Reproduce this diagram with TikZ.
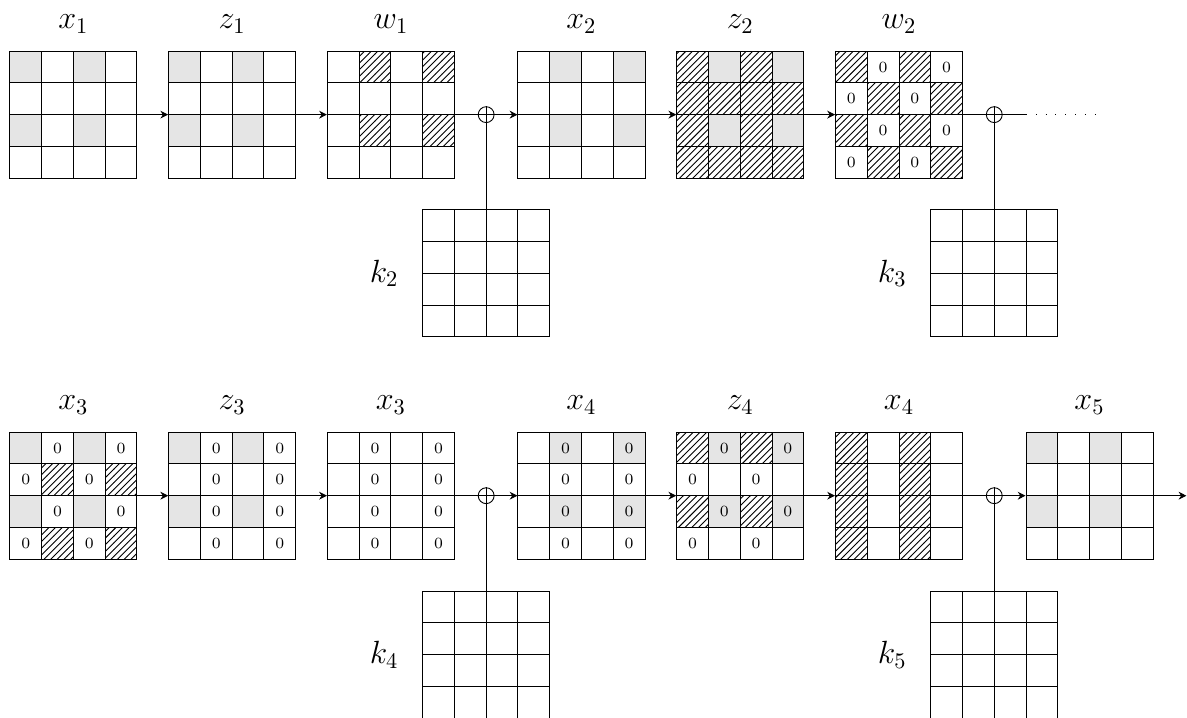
\documentclass[tikz,border=0pt]{standalone}
\usetikzlibrary{arrows.meta,patterns}
\tikzset{gridbox/.style={draw,minimum size=2cm,inner sep=0pt},lbl/.style={font=\Large,label distance=1.5mm},klbl/.style={font=\Large,label distance=2.5mm},shade/.style={fill=gray!20},hatch/.style={pattern=north east lines},zero/.style={font=\scriptsize,inner sep=0pt},oplus/.style={draw,circle,minimum size=2.5mm,inner sep=0pt},arrow/.style={-{Stealth[length=3.5pt,width=3.5pt]}}}
% cells are given as column/row, row 1 on top
\newcommand{\gfill}[2]{\foreach \i/\j in {#2} \fill[#1] (\i-1,4-\j) rectangle ++(1,1);}
\newcommand{\gzero}[1]{\foreach \i/\j in {#1} \node[zero] at (\i-0.5,4.5-\j) {0};}
% name, x, y, label, cells
\newcommand{\cellgrid}[5]{\begin{scope}[shift={(#2,#3)}]#5\foreach \t in {1,2,3} \draw (\t,0) -- (\t,4) (0,\t) -- (4,\t);\node[gridbox,label={#4}] (#1) at (2,2) {};\end{scope}}

\begin{document}
\begin{tikzpicture}[x=0.5cm,y=0.5cm]
\useasboundingbox (-0.31,-16.97) rectangle (37.07,5.61);
% first stage
\cellgrid{x1}{0}{0}{[lbl]above:$x_1$}{\gfill{shade}{1/1,3/1,1/3,3/3}}
\cellgrid{z1}{5}{0}{[lbl]above:$z_1$}{\gfill{shade}{1/1,3/1,1/3,3/3}}
\cellgrid{w1}{10}{0}{[lbl]above:$w_1$}{\gfill{hatch}{2/1,4/1,2/3,4/3}}
\cellgrid{x2}{16}{0}{[lbl]above:$x_2$}{\gfill{shade}{2/1,4/1,2/3,4/3}}
\cellgrid{z2}{21}{0}{[lbl]above:$z_2$}{\gfill{shade}{2/1,4/1,2/3,4/3}\gfill{hatch}{1/1,3/1,1/2,2/2,3/2,4/2,1/3,3/3,1/4,2/4,3/4,4/4}}
\cellgrid{w2}{26}{0}{[lbl]above:$w_2$}{\gfill{hatch}{1/1,3/1,2/2,4/2,1/3,3/3,2/4,4/4}\gzero{2/1,4/1,1/2,3/2,2/3,4/3,1/4,3/4}}
\cellgrid{k2}{13}{-5}{[klbl]left:$k_2$}{}
\cellgrid{k3}{29}{-5}{[klbl]left:$k_3$}{}
\node[oplus] (s2) at (15,2) {};
\node[oplus] (s3) at (31,2) {};
\coordinate (cut) at (32,2);
\coordinate (dots) at (34.2,2);
\draw[arrow] (x1) -- (z1); \draw[arrow] (z1) -- (w1); \draw[arrow] (w1) -- (x2); \draw[arrow] (x2) -- (z2); \draw[arrow] (z2) -- (w2);
\draw (w2) -- (cut); \draw[loosely dotted] (cut) -- (dots);
\draw (k2) -- (s2.north); \draw (k3) -- (s3.north);
% second stage
\cellgrid{x3}{0}{-12}{[lbl]above:$x_3$}{\gfill{shade}{1/1,3/1,1/3,3/3}\gfill{hatch}{2/2,4/2,2/4,4/4}\gzero{2/1,4/1,1/2,3/2,2/3,4/3,1/4,3/4}}
\cellgrid{z3}{5}{-12}{[lbl]above:$z_3$}{\gfill{shade}{1/1,3/1,1/3,3/3}\gzero{2/1,4/1,2/2,4/2,2/3,4/3,2/4,4/4}}
\cellgrid{x3b}{10}{-12}{[lbl]above:$x_3$}{\gzero{2/1,4/1,2/2,4/2,2/3,4/3,2/4,4/4}}
\cellgrid{x4}{16}{-12}{[lbl]above:$x_4$}{\gfill{shade}{2/1,4/1,2/3,4/3}\gzero{2/1,4/1,2/2,4/2,2/3,4/3,2/4,4/4}}
\cellgrid{z4}{21}{-12}{[lbl]above:$z_4$}{\gfill{shade}{2/1,4/1,2/3,4/3}\gfill{hatch}{1/1,3/1,1/3,3/3}\gzero{2/1,4/1,1/2,3/2,2/3,4/3,1/4,3/4}}
\cellgrid{x4b}{26}{-12}{[lbl]above:$x_4$}{\gfill{hatch}{1/1,3/1,1/2,3/2,1/3,3/3,1/4,3/4}}
\cellgrid{x5}{32}{-12}{[lbl]above:$x_5$}{\gfill{shade}{1/1,3/1,1/3,3/3}}
\cellgrid{k4}{13}{-17}{[klbl]left:$k_4$}{}
\cellgrid{k5}{29}{-17}{[klbl]left:$k_5$}{}
\node[oplus] (s4) at (15,-10) {};
\node[oplus] (s5) at (31,-10) {};
\coordinate (out) at (37.05,-10);
\draw[arrow] (x3) -- (z3); \draw[arrow] (z3) -- (x3b); \draw[arrow] (x3b) -- (x4); \draw[arrow] (x4) -- (z4); \draw[arrow] (z4) -- (x4b); \draw[arrow] (x4b) -- (x5);
\draw[arrow] (x5) -- (out);
\draw (k4) -- (s4.north); \draw (k5) -- (s5.north);
\end{tikzpicture}
\end{document}
